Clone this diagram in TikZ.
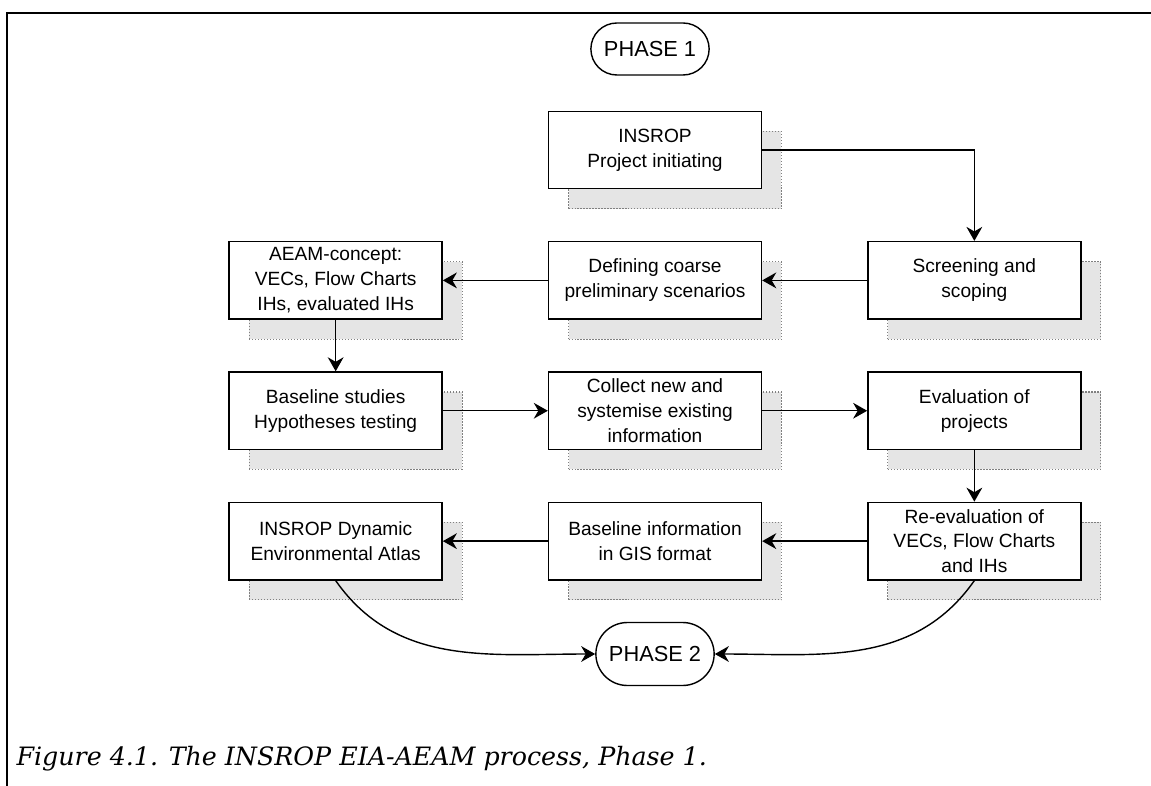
\documentclass[tikz,border=0pt]{standalone}
\usepackage{fontspec}
\setmainfont{Liberation Sans}
\newfontfamily\captionfont{DejaVu Serif}
\usetikzlibrary{
  positioning,     % boxes placed relative to each other
  shadows,         % dotted grey shadow behind each box
  shapes.misc,     % rounded rectangle for the phases
  arrows.meta
}
\tikzset{
  node distance=1.03cm and 2.1cm,
  every node/.style = {
    align=center,
    font=\fontsize{10.9}{14.2}\selectfont
  },
  stepbox/.style = {
    rectangle,
    draw,
    fill=white,
    line width=0.8pt,
    minimum width=4.26cm,
    minimum height=1.55cm,
    inner sep=2pt,
    general shadow={shadow xshift=0.4cm, shadow yshift=-0.4cm,
      fill=black!10, draw=black!50, densely dotted, line width=0.7pt}
  },
  phase/.style = {
    rounded rectangle,
    draw,
    line width=0.8pt,
    minimum width=2.6cm,
    minimum height=1.04cm,
    font=\fontsize{12.4}{14}\selectfont
  },
  ->,        % arrows for all
  >={Stealth[length=8pt, width=9pt]}
}

\begin{document}
\begin{tikzpicture}[x=0.02cm, y=-0.02cm, line width=0.8pt]

  %% frame
  \useasboundingbox (0,0) rectangle (1151,786);
  \draw[-, line width=1.1pt] (1151,13) -- (7,13) -- (7,786);

  %% nodes
  \node[phase] (P1) at (650,49) {PHASE 1};

  \node[stepbox] (INIT) at (655,150) {INSROP\\Project initiating};

  \node[stepbox] (DEF)  [below=of INIT] {Defining coarse\\preliminary scenarios};
  \node[stepbox] (SCR)  [right=of DEF]  {Screening and\\scoping};
  \node[stepbox] (AEAM) [left=of DEF]   {AEAM-concept:\\VECs, Flow Charts\\IHs, evaluated IHs};

  \node[stepbox] (COL)  [below=of DEF]  {Collect new and\\systemise existing\\information};
  \node[stepbox] (BAS)  [left=of COL]   {Baseline studies\\Hypotheses testing};
  \node[stepbox] (EVA)  [right=of COL]  {Evaluation of\\projects};

  \node[stepbox] (GIS)  [below=of COL]  {Baseline information\\in GIS format};
  \node[stepbox] (ATL)  [left=of GIS]   {INSROP Dynamic\\Environmental Atlas};
  \node[stepbox] (REV)  [right=of GIS]  {Re-evaluation of\\VECs, Flow Charts\\and IHs};

  \node[phase, minimum height=1.26cm] (P2) at (655,654) {PHASE 2};

  %% arrows
  \draw (INIT.east) -| (SCR.north);
  \draw (SCR) -- (DEF);
  \draw (DEF) -- (AEAM);
  \draw (AEAM) -- (BAS);
  \draw (BAS) -- (COL);
  \draw (COL) -- (EVA);
  \draw (EVA) -- (REV);
  \draw (REV) -- (GIS);
  \draw (GIS) -- (ATL);

  \draw (ATL.south) to[out=-55, in=180] (P2.west);
  \draw (REV.south) to[out=-125, in=0] (P2.east);

  %% caption
  \node[anchor=base west, font=\captionfont\itshape\fontsize{14.4}{16}\selectfont]
    (CAP) at (10,765) {Figure 4.1. The INSROP EIA-AEAM process, Phase 1.};

\end{tikzpicture}
\end{document}
